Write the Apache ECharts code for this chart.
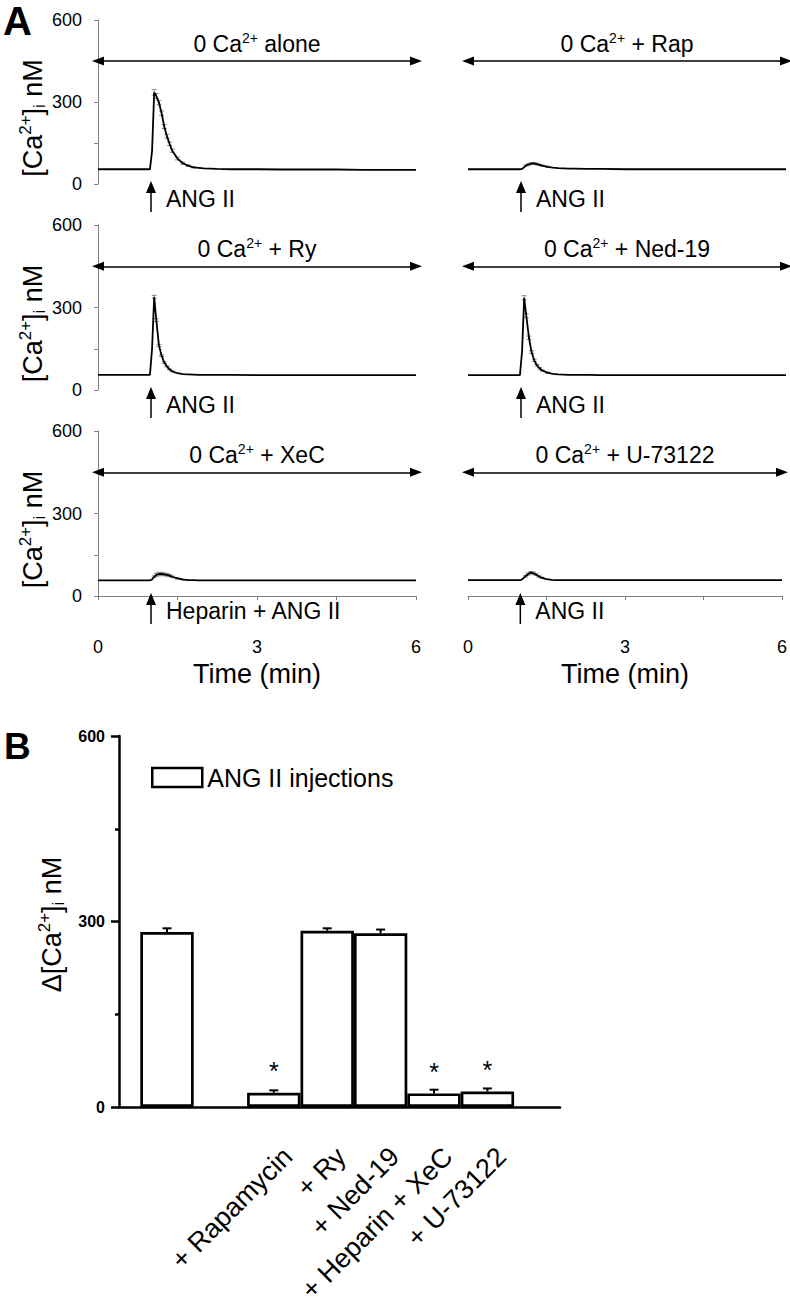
<!DOCTYPE html>
<html><head><meta charset="utf-8">
<script src="https://cdn.jsdelivr.net/npm/echarts@6/dist/echarts.min.js"></script>
<style>html,body{margin:0;padding:0;background:#fff}#c{width:790px;height:1306px}</style>
</head><body><div id="c"></div>
<script>
const FONT = '"Liberation Sans", Arial, Helvetica, sans-serif';

// ---------- Panel A data (time in min, [Ca2+]i in nM) ----------
const time   = [0, 0.5, 0.98, 1.02, 1.06, 1.1, 1.15, 1.2, 1.25, 1.3, 1.35, 1.4, 1.5, 1.6, 1.7, 1.8, 1.9, 2.0, 2.25, 2.5, 3.0, 3.5, 4.0, 4.5, 5.0, 5.5, 6.0];
const alone  = [54, 54, 54, 120, 335, 322, 298, 259, 210, 175, 147, 122, 93, 76, 67, 61, 59, 57, 55, 54, 54, 53, 53, 53, 52, 52, 52];
const aloneSem=[0, 0, 0, 0, 10, 9, 8, 8, 7, 7, 6, 6, 5, 4, 3, 2, 0, 0, 0, 0, 0, 0, 0, 0, 0, 0, 0];
const rap    = [54, 54, 54, 55, 62, 68, 72, 75, 75, 73, 70, 67, 63, 60, 58, 57, 56, 56, 55, 55, 54, 54, 54, 54, 54, 54, 54];
const rapSem = [0, 0, 0, 0, 0, 2, 3, 3, 3, 3, 2, 2, 2, 0, 0, 0, 0, 0, 0, 0, 0, 0, 0, 0, 0, 0, 0];
const ry     = [55, 55, 55, 150, 338, 254, 162, 125, 100, 86, 75, 68, 61, 58, 57, 56, 55, 55, 55, 55, 54, 54, 54, 54, 54, 54, 54];
const rySem  = [0, 0, 0, 0, 6, 5, 4, 3, 3, 2, 2, 2, 0, 0, 0, 0, 0, 0, 0, 0, 0, 0, 0, 0, 0, 0, 0];
const ned    = [54, 54, 54, 140, 335, 270, 190, 138, 108, 90, 79, 71, 63, 59, 57, 56, 55, 55, 55, 54, 54, 54, 54, 54, 54, 54, 54];
const nedSem = [0, 0, 0, 0, 8, 7, 6, 5, 4, 3, 3, 2, 2, 0, 0, 0, 0, 0, 0, 0, 0, 0, 0, 0, 0, 0, 0];
const xec    = [57, 57, 57, 60, 70, 77, 80, 80, 79, 77, 74, 70, 64, 60, 58, 57.5, 57, 57, 57, 57, 57, 57, 57, 57, 57, 57, 57];
const xecSem = [0, 0, 0, 0, 3, 5, 6, 6, 5, 5, 4, 3, 2, 0, 0, 0, 0, 0, 0, 0, 0, 0, 0, 0, 0, 0, 0];
const u73    = [58, 58, 58, 59, 65, 72, 80, 85, 83, 78, 72, 67, 61, 59, 58, 58, 58, 58, 58, 58, 58, 58, 58, 58, 58, 58, 58];
const u73Sem = [0, 0, 0, 0, 0, 3, 4, 4, 4, 3, 3, 2, 0, 0, 0, 0, 0, 0, 0, 0, 0, 0, 0, 0, 0, 0, 0];

const panelSuffix = [' alone', ' + Rap', ' + Ry', ' + Ned-19', ' + XeC', ' + U-73122'];
const injLabels   = ['ANG II', 'ANG II', 'ANG II', 'ANG II', 'Heparin + ANG II', 'ANG II'];
const injTime     = [1, 1, 1, 1, 1, 1];
const traces      = [alone, rap, ry, ned, xec, u73];
const traceSems   = [aloneSem, rapSem, rySem, nedSem, xecSem, u73Sem];
const yTicksA     = [0, 300, 600];
const xTicksA     = [0, 3, 6];
const arrowLevel  = 450;

// ---------- Panel B data ----------
const barCats   = ['', ' ', '+ Rapamycin', '+ Ry', '+ Ned-19', '+ Heparin + XeC', '+ U-73122'];
const barVals   = [283, null, 23, 285, 281, 22, 25];
const barErr    = [6, null, 4, 4, 6, 6, 5];
const barSig    = [false, false, true, false, false, true, true];

// ---------- Layout ----------
const rowTop = [20, 225, 431];
const rowH = [164, 165, 165];
const colLeft = [98, 468];
const colW = 318;

const grids = [], xAxes = [], yAxes = [], series = [];
const rich = {
  a: {fontSize: 23, fontFamily: FONT, color: '#000', lineHeight: 26},
  s: {fontSize: 14, fontFamily: FONT, color: '#000', lineHeight: 14, verticalAlign: 'top'},
  b: {fontSize: 14, fontFamily: FONT, color: '#000', lineHeight: 14, verticalAlign: 'bottom'}
};
const richY = {
  a: {fontSize: 27, fontFamily: FONT, color: '#000', lineHeight: 31},
  s: {fontSize: 17, fontFamily: FONT, color: '#000', lineHeight: 17, verticalAlign: 'top'},
  b: {fontSize: 17, fontFamily: FONT, color: '#000', lineHeight: 17, verticalAlign: 'bottom'}
};

for (let p = 0; p < 6; p++) {
  const row = Math.floor(p / 2), col = p % 2;
  grids.push({left: colLeft[col], top: rowTop[row], width: colW, height: rowH[row]});
  const bottom = row === 2;
  xAxes.push({
    gridIndex: p, type: 'value', min: 0, max: 6, interval: 1.5,
    show: bottom, offset: 34,
    name: bottom ? 'Time (min)' : '', nameLocation: 'middle', nameGap: 30,
    nameTextStyle: {fontSize: 27, fontFamily: FONT, color: '#000'},
    axisLine: {lineStyle: {color: '#808080', width: 1}},
    axisTick: {length: 4, lineStyle: {color: '#808080'}},
    axisLabel: {fontSize: 18, fontFamily: FONT, color: '#000', margin: 8,
      formatter: v => xTicksA.includes(v) ? String(v) : ''},
    splitLine: {show: false}
  });
  yAxes.push({
    gridIndex: p, type: 'value', min: 0, max: 600, interval: 150,
    show: col === 0, offset: 10,
    name: col === 0 ? '{a|[Ca}{s|2+}{a|]}{b|i}{a| nM}' : '',
    nameLocation: 'middle', nameGap: 39,
    nameTextStyle: {rich: richY, padding: [0, 32, 0, 0]},
    axisLine: {show: true, lineStyle: {color: '#808080', width: 1}},
    axisTick: {show: true, length: 4, lineStyle: {color: '#808080'}},
    axisLabel: {fontSize: 18, fontFamily: FONT, color: '#000', margin: 6,
      formatter: v => yTicksA.includes(v) ? String(v) : ''},
    splitLine: {show: false}
  });
  const vals = traces[p], sems = traceSems[p];
  series.push({
    type: 'line', xAxisIndex: p, yAxisIndex: p,
    data: time.map((t, i) => [t, vals[i]]),
    showSymbol: false, symbol: 'none', smooth: false,
    lineStyle: {color: '#000', width: 1.8}, itemStyle: {color: '#000'},
    animation: false, silent: true, z: 3,
    markLine: {
      silent: true, animation: false,
      symbol: ['triangle', 'triangle'], symbolSize: [9, 12],
      lineStyle: {color: '#000', width: 1.5, type: 'solid'},
      label: {show: true, position: 'middle', distance: 4, color: '#000',
        formatter: '{a|0 Ca}{s|2+}{a|' + panelSuffix[p] + '}', rich: rich},
      data: [[{coord: [0, arrowLevel]}, {coord: [6, arrowLevel]}]]
    }
  });
  // SEM error bars on the trace
  series.push({
    type: 'custom', xAxisIndex: p, yAxisIndex: p, silent: true, animation: false, z: 2,
    data: time.map((t, i) => [t, vals[i], sems[i]]).filter(d => d[2] > 0),
    renderItem: (params, api) => {
      const t = api.value(0), v = api.value(1), e = api.value(2);
      const lo = api.coord([t, v - e]), hi = api.coord([t, v + e]);
      const st = {stroke: '#8a8a8a', lineWidth: 1};
      return {type: 'group', children: [
        {type: 'line', shape: {x1: lo[0], y1: lo[1], x2: hi[0], y2: hi[1]}, style: st},
        {type: 'line', shape: {x1: hi[0] - 2.5, y1: hi[1], x2: hi[0] + 2.5, y2: hi[1]}, style: st},
        {type: 'line', shape: {x1: lo[0] - 2.5, y1: lo[1], x2: lo[0] + 2.5, y2: lo[1]}, style: st}
      ]};
    }
  });
  // injection arrow + label
  const lab = injLabels[p];
  series.push({
    type: 'custom', xAxisIndex: p, yAxisIndex: p, silent: true, animation: false, clip: false, z: 4,
    data: [[injTime[p], 0]],
    renderItem: (params, api) => {
      const c = api.coord([api.value(0), api.value(1)]);
      const x = c[0], y = c[1];
      return {type: 'group', children: [
        {type: 'line', shape: {x1: x, y1: y + 28, x2: x, y2: y + 7}, style: {stroke: '#000', lineWidth: 1.5}},
        {type: 'polygon', shape: {points: [[x, y - 3], [x - 5, y + 9], [x + 5, y + 9]]}, style: {fill: '#000'}},
        {type: 'text', x: x + 15, y: y + 15, style: {text: lab, fontSize: 23, fontFamily: FONT, fill: '#000', align: 'left', verticalAlign: 'middle'}}
      ]};
    }
  });
}

// ---------- Panel B ----------
const bTop = 736, bH = 371, bLeft = 119, bRight = 560;
const slotW = 53.4, barsLeft = 140.3;
// frame grid (6)
grids.push({left: bLeft, top: bTop, width: bRight - bLeft, height: bH});
xAxes.push({gridIndex: 6, type: 'value', min: 0, max: 1, show: true,
  axisLine: {lineStyle: {color: '#000', width: 2.5}}, axisTick: {show: false}, axisLabel: {show: false}, splitLine: {show: false}});
yAxes.push({gridIndex: 6, type: 'value', min: 0, max: 600, interval: 300,
  name: '{a|Δ[Ca}{s|2+}{a|]}{b|i}{a| nM}', nameLocation: 'middle', nameGap: 48,
  nameTextStyle: {rich: richY, padding: [0, 6, 0, 0]},
  axisLine: {show: true, lineStyle: {color: '#000', width: 2.5}},
  axisTick: {show: true, length: 8, lineStyle: {color: '#000', width: 2.5}},
  minorTick: {show: true, splitNumber: 2, length: 4, lineStyle: {color: '#000', width: 2.5}},
  axisLabel: {fontSize: 16, fontWeight: 'bold', fontFamily: FONT, color: '#000', margin: 14},
  splitLine: {show: false}, minorSplitLine: {show: false}});
// bars grid (7)
grids.push({left: barsLeft, top: bTop, width: slotW * barCats.length, height: bH});
xAxes.push({gridIndex: 7, type: 'category', data: barCats, show: false});
yAxes.push({gridIndex: 7, type: 'value', min: 0, max: 600, show: false});
// labels grid (8), offset like the reference
grids.push({left: barsLeft + 14, top: bTop, width: slotW * barCats.length, height: bH});
xAxes.push({gridIndex: 8, type: 'category', data: barCats,
  axisLine: {show: false}, axisTick: {show: false},
  axisLabel: {rotate: 45, interval: 0, margin: 71, fontSize: 27, fontFamily: FONT, color: '#000'}});
yAxes.push({gridIndex: 8, type: 'value', min: 0, max: 600, show: false});

series.push({
  name: 'ANG II injections', type: 'bar', xAxisIndex: 7, yAxisIndex: 7,
  barWidth: '100%', animation: false, z: 3,
  itemStyle: {color: '#fff', borderColor: '#000', borderWidth: 2.7},
  label: {show: false, position: 'top', distance: 9, formatter: '*', fontSize: 25, fontFamily: FONT, color: '#000'},
  data: barVals.map((v, i) => ({value: v, label: {show: barSig[i]}}))
});
series.push({
  type: 'custom', xAxisIndex: 7, yAxisIndex: 7, silent: true, animation: false, z: 2,
  data: barVals.map((v, i) => [i, v, barErr[i]]).filter(d => d[1] != null),
  renderItem: (params, api) => {
    const i = api.value(0), v = api.value(1), e = api.value(2);
    const lo = api.coord([i, v]), hi = api.coord([i, v + e]);
    const st = {stroke: '#000', lineWidth: 2};
    return {type: 'group', children: [
      {type: 'line', shape: {x1: lo[0], y1: lo[1], x2: hi[0], y2: hi[1]}, style: st},
      {type: 'line', shape: {x1: hi[0] - 4.5, y1: hi[1], x2: hi[0] + 4.5, y2: hi[1]}, style: st}
    ]};
  }
});

const chart = echarts.init(document.getElementById('c'), null, {renderer: 'svg'});
chart.setOption({
  backgroundColor: '#fff',
  animation: false,
  textStyle: {fontFamily: FONT},
  title: [
    {text: 'A', left: -2, top: -4, textStyle: {fontSize: 40, fontWeight: 'bold', fontFamily: FONT, color: '#000'}},
    {text: 'B', left: -1, top: 723, textStyle: {fontSize: 37, fontWeight: 'bold', fontFamily: FONT, color: '#000'}}
  ],
  legend: {
    data: ['ANG II injections'], left: 146, top: 760, icon: 'rect',
    itemWidth: 50, itemHeight: 19, selectedMode: false,
    textStyle: {fontSize: 25, fontFamily: FONT, color: '#000'},
    itemStyle: {borderWidth: 2.5, borderColor: '#000', color: '#fff'}
  },
  grid: grids, xAxis: xAxes, yAxis: yAxes, series: series
});
</script></body></html>
